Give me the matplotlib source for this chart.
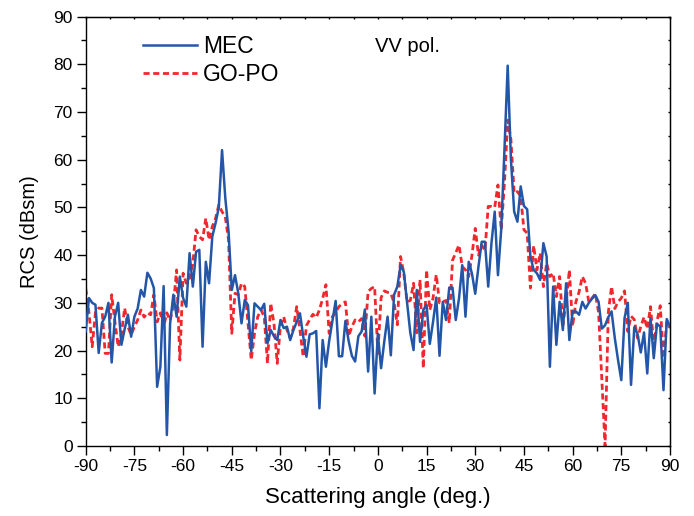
import numpy as np
import matplotlib
matplotlib.use("Agg")
import matplotlib.pyplot as plt
from matplotlib.ticker import MultipleLocator

angles = list(range(-90, 91))

mec = [
    24, 31, 30, 29.6, 19.5, 25.8, 27.1, 30, 17.5, 27.1,          # -90..-81
    30, 21.2, 24.5, 27.5, 22.9, 27.1, 28.8, 32.7, 31.3, 36.3,    # -80..-71
    35.1, 33.1, 12.4, 16.6, 33.5, 2.3, 25.7, 31.7, 27.1, 35.5,   # -70..-61
    31, 29.2, 40.4, 33.4, 40.7, 41.1, 20.8, 38.6, 34.1, 43.9,    # -60..-51
    46.7, 50, 62, 52, 45, 32.7, 35.8, 32, 25.7, 30.6,            # -50..-41
    29.5, 19.8, 29.9, 29.2, 28.5, 29.8, 21.5, 24.3, 23, 22.2,    # -40..-31
    26.4, 24.7, 25, 22.2, 24.3, 26, 27.8, 23, 18.7, 23.4,        # -30..-21
    23.6, 24.1, 7.9, 22.2, 16.6, 22, 26.2, 30.4, 18.8, 18.8,     # -20..-11
    26.2, 22, 18.9, 17.7, 23, 24, 28.6, 15.6, 27.1, 11.0,        # -10..-1
    23.5,                                                        # 0
    16.3, 22, 27.1, 19, 31.7, 33.4, 37.9, 36.5, 30, 23.7,        # 1..10
    20.1, 32.7, 21.8, 28.5, 29.6, 21.4, 26, 31.1, 18.9, 30.2,    # 11..20
    26.4, 33.2, 33.2, 26.4, 30.9, 37.9, 27.1, 38.6, 36.1, 31.9,  # 21..30
    37.6, 42.8, 42.8, 33.4, 42.5, 49.1, 35.8, 45.3, 62, 79.7,    # 31..40
    60, 49.1, 47, 54.4, 50.3, 49.6, 39.7, 36.9, 36.2, 34.8,      # 41..50
    42.5, 39.7, 16.6, 33.4, 21.2, 30.2, 24.3, 34.1, 22.2, 28.2,  # 51..60
    28.2, 27.5, 30.2, 28.8, 30, 30.9, 31.6, 30.2, 24.6, 25.3,    # 61..70
    27, 28.2, 22.6, 18, 13.8, 26.8, 30, 12.8, 24.9, 23.5,        # 71..80
    19.6, 23.8, 15.2, 26.8, 18.4, 25.6, 25, 11.7, 26.6, 25,      # 81..90
]

gopo = [
    33, 28, 20.8, 28, 28.9, 28.9, 19.4, 19.4, 31.7, 26,          # -90..-81
    20.8, 23.5, 28.9, 25, 23.3, 25, 26.4, 28.5, 27, 27.9,        # -80..-71
    27.5, 31.7, 26, 27.9, 25, 27.9, 26.3, 29.4, 36.9, 18,        # -70..-61
    36.2, 34.1, 35.2, 38.3, 45.3, 43.9, 43.2, 47.7, 43.2, 46,    # -60..-51
    47.7, 50.5, 49.1, 48, 43.2, 23.6, 32, 31.7, 34.1, 33.4,      # -50..-41
    25.7, 18, 23.6, 27.1, 28.5, 27.1, 17.3, 29.9, 25.7, 17.3,    # -40..-31
    25.2, 27.1, 24.3, 22.6, 24.7, 29.2, 24.3, 18.7, 25.2, 26.5,  # -30..-21
    27.6, 26.9, 28.5, 30.9, 33.8, 23.6, 27.1, 28, 29.2, 29.8,    # -20..-11
    30.2, 23, 25, 26.4, 26, 26.7, 23, 32.4, 33, 33.4,            # -10..-1
    19.4,                                                        # 0
    31.1, 32.5, 32.2, 32, 30, 25.4, 39.7, 36.2, 30.2, 30.5,      # 1..10
    34.1, 23.7, 34.8, 16.3, 36.9, 28.5, 31, 35.9, 30, 30.2,      # 11..20
    30.5, 25.8, 38.9, 40.5, 42.1, 37.6, 36.9, 35.5, 40, 45.6,    # 21..30
    40, 42.1, 41, 50.2, 50.2, 50, 54.7, 45.3, 55, 68.3,          # 31..40
    64.2, 53, 53.3, 52.4, 45.3, 44.6, 33.1, 42, 36.9, 40.4,      # 41..50
    33.4, 38.3, 35.5, 36.2, 31.3, 35.5, 25.4, 30.2, 36.9, 25.1,  # 51..60
    30.2, 32.3, 35.5, 34.1, 30.2, 31, 31.9, 28, 14, 0,           # 61..70
    28, 33.4, 28.8, 30.2, 31, 32.5, 24, 27.2, 26.5, 22.6,        # 71..80
    25, 27, 24.6, 29.2, 21, 26.1, 29.4, 18.4, 26, 25,            # 81..90
]

xticks = list(range(-90, 91, 15))
yticks = list(range(0, 91, 10))

plt.rcParams['font.family'] = ['Liberation Sans', 'DejaVu Sans']
plt.rcParams['axes.unicode_minus'] = False

fig = plt.figure(figsize=(6.94, 5.16), dpi=100)
ax = fig.add_axes([0.1235, 0.1357, 0.8419, 0.8323])

ax.plot(angles, mec, color='#2456a8', lw=1.8, label='MEC', zorder=3)
ax.plot(angles, gopo, color='#f0282d', lw=2.0, ls=(0, (2.2, 1.3)), label='GO-PO', zorder=2)

ax.set_xlim(-90, 90)
ax.set_ylim(0, 90)
ax.set_xticks(xticks)
ax.set_yticks(yticks)
ax.xaxis.set_minor_locator(MultipleLocator(7.5))
ax.yaxis.set_minor_locator(MultipleLocator(5))
ax.tick_params(which='major', direction='out', length=6.5, width=1.0, labelsize=12.5,
               top=False, right=False, pad=3)
ax.tick_params(which='minor', direction='out', length=3.5, width=1.0, top=False, right=False)
for sp in ax.spines.values():
    sp.set_linewidth(1.0)

# tiny inward ticks on top and right
ax2 = ax.secondary_xaxis('top')
ax2.set_xticks(np.arange(-90, 90.1, 7.5))
ax2.tick_params(direction='in', length=1.5, width=1.0, labeltop=False)
ax3 = ax.secondary_yaxis('right')
ax3.set_yticks(np.arange(0, 90.1, 5))
ax3.tick_params(direction='in', length=1.5, width=1.0, labelright=False)

ax.set_xlabel('Scattering angle (deg.)', fontsize=16, labelpad=9)
ax.set_ylabel('RCS (dBsm)', fontsize=14.5, labelpad=10)

leg = ax.legend(loc='upper left', bbox_to_anchor=(0.098, 0.957), frameon=False,
                fontsize=16.5, handlelength=2.36, handletextpad=0.26, labelspacing=0.22,
                borderpad=0, borderaxespad=0)
ax.text(0.495, 0.93, 'VV pol.', transform=ax.transAxes, fontsize=14.5, ha='left', va='center')

fig.savefig('out.png', dpi=100)
